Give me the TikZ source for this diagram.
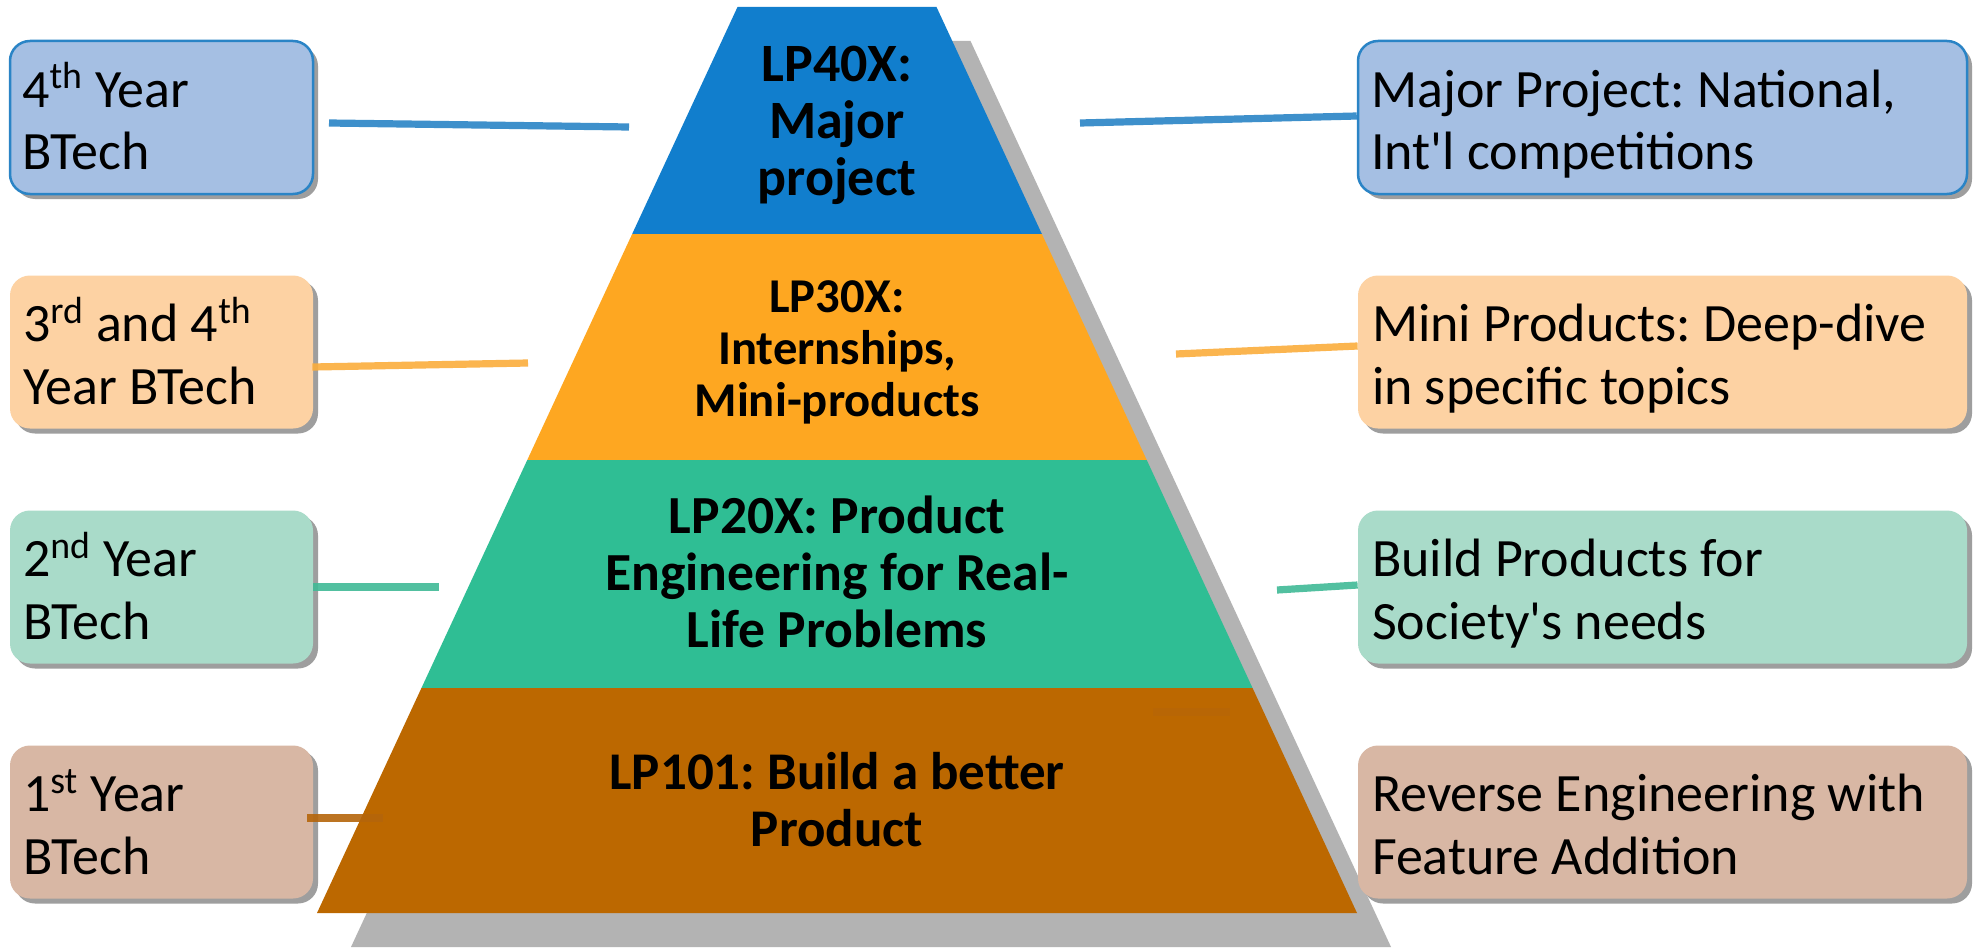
\documentclass[tikz,border=0pt]{standalone}
\usepackage{fontspec}
\setmainfont{Carlito}
\usetikzlibrary{calc,shadows}
\frenchspacing
\definecolor{tblue}{RGB}{17,126,205}
\definecolor{torange}{RGB}{254,167,33}
\definecolor{tgreen}{RGB}{47,190,148}
\definecolor{tbrown}{RGB}{188,104,0}
\definecolor{pshadow}{RGB}{179,179,179}
\definecolor{bshadow}{RGB}{158,158,158}
\definecolor{fblue}{RGB}{165,191,227}
\definecolor{forange}{RGB}{253,210,163}
\definecolor{fgreen}{RGB}{169,219,201}
\definecolor{fbrown}{RGB}{216,183,164}
\definecolor{cblue}{RGB}{42,132,198}
\definecolor{corange}{RGB}{251,173,60}
\definecolor{cgreen}{RGB}{64,186,150}
\definecolor{cbrown}{RGB}{181,101,10}
\begin{document}
\begin{tikzpicture}[x=0.5pt,y=-0.5pt,
  boxbase/.style={rounded corners=10pt, inner sep=0pt,
    drop shadow={shadow xshift=2.5pt, shadow yshift=-2.5pt, fill=bshadow, opacity=1}},
  lbox/.style={boxbase, minimum width=151.5pt, minimum height=76.5pt},
  rbox/.style={boxbase, minimum width=304.5pt, minimum height=76.5pt},
  btext/.style={inner sep=0pt, align=left, anchor=west,
    font=\fontsize{27}{31.5}\selectfont},
  ttext/.style={inner sep=0pt, align=center},
  conn/.style={line width=3.6pt, opacity=0.9}]
\useasboundingbox (0,0) rectangle (1984,947);
\fill[white] (0,0) rectangle (1984,947);

% pyramid shadows
\begin{scope}[shift={(34,34)}]
  \fill[pshadow] (737.5,7) -- (936.5,7) -- (1041.85,234) -- (632.15,234) -- cycle;
  \fill[pshadow] (632.15,234) -- (1041.85,234) -- (1146.74,460) -- (527.26,460) -- cycle;
  \fill[pshadow] (527.26,460) -- (1146.74,460) -- (1252.55,688) -- (421.45,688) -- cycle;
  \fill[pshadow] (421.45,688) -- (1252.55,688) -- (1357,913) -- (317,913) -- cycle;
\end{scope}

% pyramid tiers
\fill[tblue] (737.5,7) -- (936.5,7) -- (1041.85,234) -- (632.15,234) -- cycle;
\fill[torange] (632.15,234) -- (1041.85,234) -- (1146.74,460) -- (527.26,460) -- cycle;
\fill[tgreen] (527.26,460) -- (1146.74,460) -- (1252.55,688) -- (421.45,688) -- cycle;
\fill[tbrown] (421.45,688) -- (1252.55,688) -- (1357,913) -- (317,913) -- cycle;

% tier texts
\node[ttext, font=\fontsize{27}{28.5}\selectfont\bfseries] (T4) at (837,126.6)
  {\strut LP40X:\\\strut Major\\\strut project};
\node[ttext, font=\fontsize{24.3}{26}\selectfont\bfseries] (T3) at (837,353.6)
  {\strut LP30X:\\\strut Internships,\\\strut Mini-products};
\node[ttext, font=\fontsize{26.8}{28.5}\selectfont\bfseries] (T2) at (837,579)
  {\strut LP20X: Product\\\strut Engineering for Real-\\\strut Life Problems};
\node[ttext, font=\fontsize{26.5}{28.5}\selectfont\bfseries] (T1) at (837,807)
  {\strut LP101: Build a better\\\strut Product};

% left boxes
\node[lbox, fill=fblue, draw=cblue, line width=1.25pt] (L1) at (161.5,117.5) {};
\node[lbox, fill=forange] (L2) at (161.5,352) {};
\node[lbox, fill=fgreen] (L3) at (161.5,587) {};
\node[lbox, fill=fbrown] (L4) at (161.5,822) {};
% right boxes
\node[rbox, fill=fblue, draw=cblue, line width=1.25pt] (R1) at (1662.5,117.5) {};
\node[rbox, fill=forange] (R2) at (1662.5,352) {};
\node[rbox, fill=fgreen] (R3) at (1662.5,587) {};
\node[rbox, fill=fbrown] (R4) at (1662.5,822) {};

% box texts
\node[btext] (L1t) at ($(L1.west)+(13,8.4)$)
  {\strut 4\smash{\textsuperscript{th}} Year\\\strut BTech};
\node[btext] (L2t) at ($(L2.west)+(13,8.4)$)
  {\strut 3\smash{\textsuperscript{rd}} and 4\smash{\textsuperscript{th}}\\\strut Year BTech};
\node[btext] (L3t) at ($(L3.west)+(13,8.4)$)
  {\strut 2\smash{\textsuperscript{nd}} Year\\\strut BTech};
\node[btext] (L4t) at ($(L4.west)+(13,8.4)$)
  {\strut 1\smash{\textsuperscript{st}} Year\\\strut BTech};
\node[btext] (R1t) at ($(R1.west)+(14,8.4)$)
  {\strut Major Project: National,\\\strut Int\textquotesingle l competitions};
\node[btext] (R2t) at ($(R2.west)+(14,8.4)$)
  {\strut Mini Products: Deep-dive\\\strut in specific topics};
\node[btext] (R3t) at ($(R3.west)+(14,8.4)$)
  {\strut Build Products for\\\strut Society\textquotesingle s needs};
\node[btext] (R4t) at ($(R4.west)+(14,8.4)$)
  {\strut Reverse Engineering with\\\strut Feature Addition};

% connectors
\coordinate (a1) at (329,123);
\coordinate (b1) at (629,127);
\coordinate (b1r) at (1080,123);
\coordinate (b2) at (528,363);
\coordinate (b2r) at (1176,354);
\coordinate (b3) at (439,587);
\coordinate (b3r) at (1277,590);
\coordinate (b4) at (383,818);
\coordinate (g1) at (1153,712);
\coordinate (g2) at (1230,712);

\draw[conn, cblue] (a1) -- (b1);
\draw[conn, cblue] (b1r) -- ($(R1.west)+(0,-1.5)$);
\draw[conn, corange] ($(L2.east)+(-1,15)$) -- (b2);
\draw[conn, corange] (b2r) -- ($(R2.west)+(0,-6)$);
\draw[conn, cgreen] (L3.east) -- (b3);
\draw[conn, cgreen] (b3r) -- ($(R3.west)+(0,-2)$);
\draw[conn, cbrown] ($(L4.east)+(-6,-4)$) -- (b4);
\draw[conn, cbrown, opacity=0.5] (g1) -- (g2);
\end{tikzpicture}
\end{document}
